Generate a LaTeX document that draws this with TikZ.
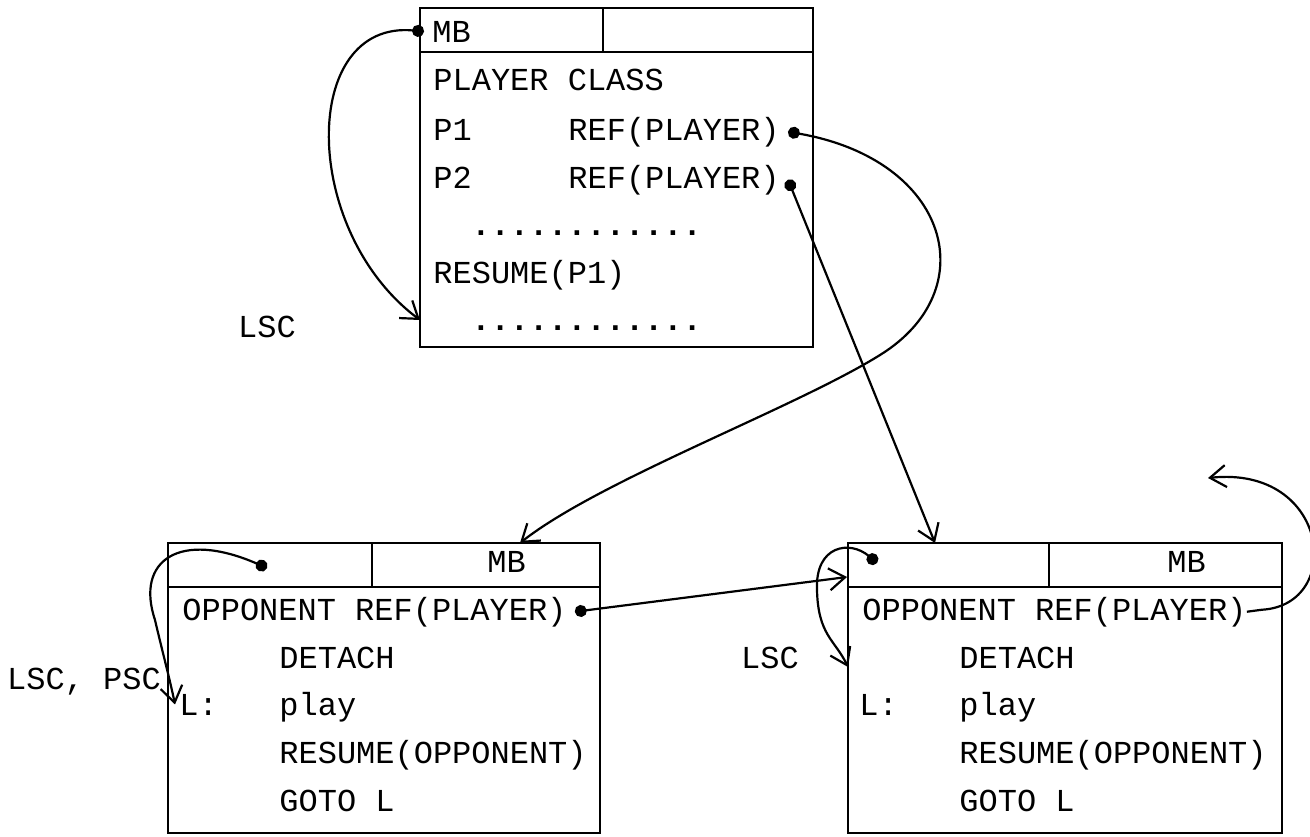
\documentclass[tikz,border=0pt]{standalone}
\usepackage{fontspec}
\setmonofont{Liberation Mono}
\usetikzlibrary{arrows.meta}
\tikzset{
    txt/.style={font=\ttfamily\fontsize{16}{19}\selectfont, inner sep=0pt, anchor=base west},
    lbl/.style={txt, anchor=base},
    ln/.style={line width=1pt},
    ptr/.style={line width=1.1pt, -{Straight Barb[length=8pt,width=11pt]}},
    dptr/.style={ptr, {Circle[length=6pt]}-{Straight Barb[length=8pt,width=11pt]}},
}

\begin{document}
\begin{tikzpicture}[x=0.5pt, y=-0.5pt]
    \useasboundingbox (0,0) rectangle (1310,836);

    % player class
    \draw[ln] (420,8) rectangle (813,347);
    \draw[ln] (420,52) -- (813,52);
    \draw[ln] (603,8) -- (603,52);
    \node[txt] (mbt) at (432,42) {MB};
    \node[txt] (cls) at (433,90) {PLAYER CLASS};
    \foreach \i/\y in {1/140,2/188}
    {\node[txt] (p\i) at (433,\y) {P\i};
     \node[txt] (ref\i) at (568,\y) {REF(PLAYER)};}
    \node[txt] (dota) at (471,235) {\bfseries ............};
    \node[txt] (rest) at (433,283) {RESUME(P1)};
    \node[txt] (dotb) at (471,330) {\bfseries ............};
    \node[lbl] (lsct) at (267,337) {LSC};

    % the two players
    \foreach \n/\x/\w/\s in {l/168/432/204, r/848/434/201}
    {
        \draw[ln] (\x,543) rectangle ++(\w,290);
        \draw[ln] (\x,587) -- ++(\w,0);
        \draw[ln] (\x+\s,543) -- ++(0,44);
        \node[txt] (mb\n) at (\x+319,572) {MB};
        \node[txt] (opp\n) at (\x+14,620) {OPPONENT REF(PLAYER)};
        \node[txt] (det\n) at (\x+111,668) {DETACH};
        \node[txt] (lab\n) at (\x+11,715) {L:};
        \node[txt] (play\n) at (\x+111,715) {play};
        \node[txt] (res\n) at (\x+111,763) {RESUME(OPPONENT)};
        \node[txt] (goto\n) at (\x+111,811) {GOTO L};
    }
    \node[lbl] (lscl) at (84,689) {LSC, PSC};
    \node[lbl] (lscr) at (770,668) {LSC};

    \coordinate (tipt) at (420,320);
    \coordinate (tipl) at (520,543);
    \coordinate (tipr) at (935,543);
    \coordinate (inr) at (847,577);
    \coordinate (hdl) at (267,568);
    \coordinate (hdr) at (877,563);
    \coordinate (detin) at (848,667);
    \coordinate (back) at (1208,478);

    \draw[dptr] ([xshift=-4pt]mbt.west) .. controls (300,20) and (300,230) .. (tipt);
    \draw[dptr] ([xshift=4pt]ref1.east) .. controls (950,160) and (985,290) .. (880,355)
        .. controls (795,408) and (600,480) .. (tipl);
    \draw[dptr] ([xshift=4pt]ref2.east) -- (tipr);
    \draw[dptr] (hdl) .. controls (180,530) and (135,560) .. (155,620)
        .. controls (162,650) and (170,680) .. ([xshift=-2pt]labl.west);
    \draw[dptr] ([xshift=4pt]oppl.east) -- (inr);
    \draw[dptr] (hdr) .. controls (850,540) and (815,545) .. (817,590)
        .. controls (818,635) and (835,640) .. (detin);
    \draw[ptr] (oppr.east) -- ++(15,-2) .. controls (1345,605) and (1330,465) .. (back);
\end{tikzpicture}
\end{document}
